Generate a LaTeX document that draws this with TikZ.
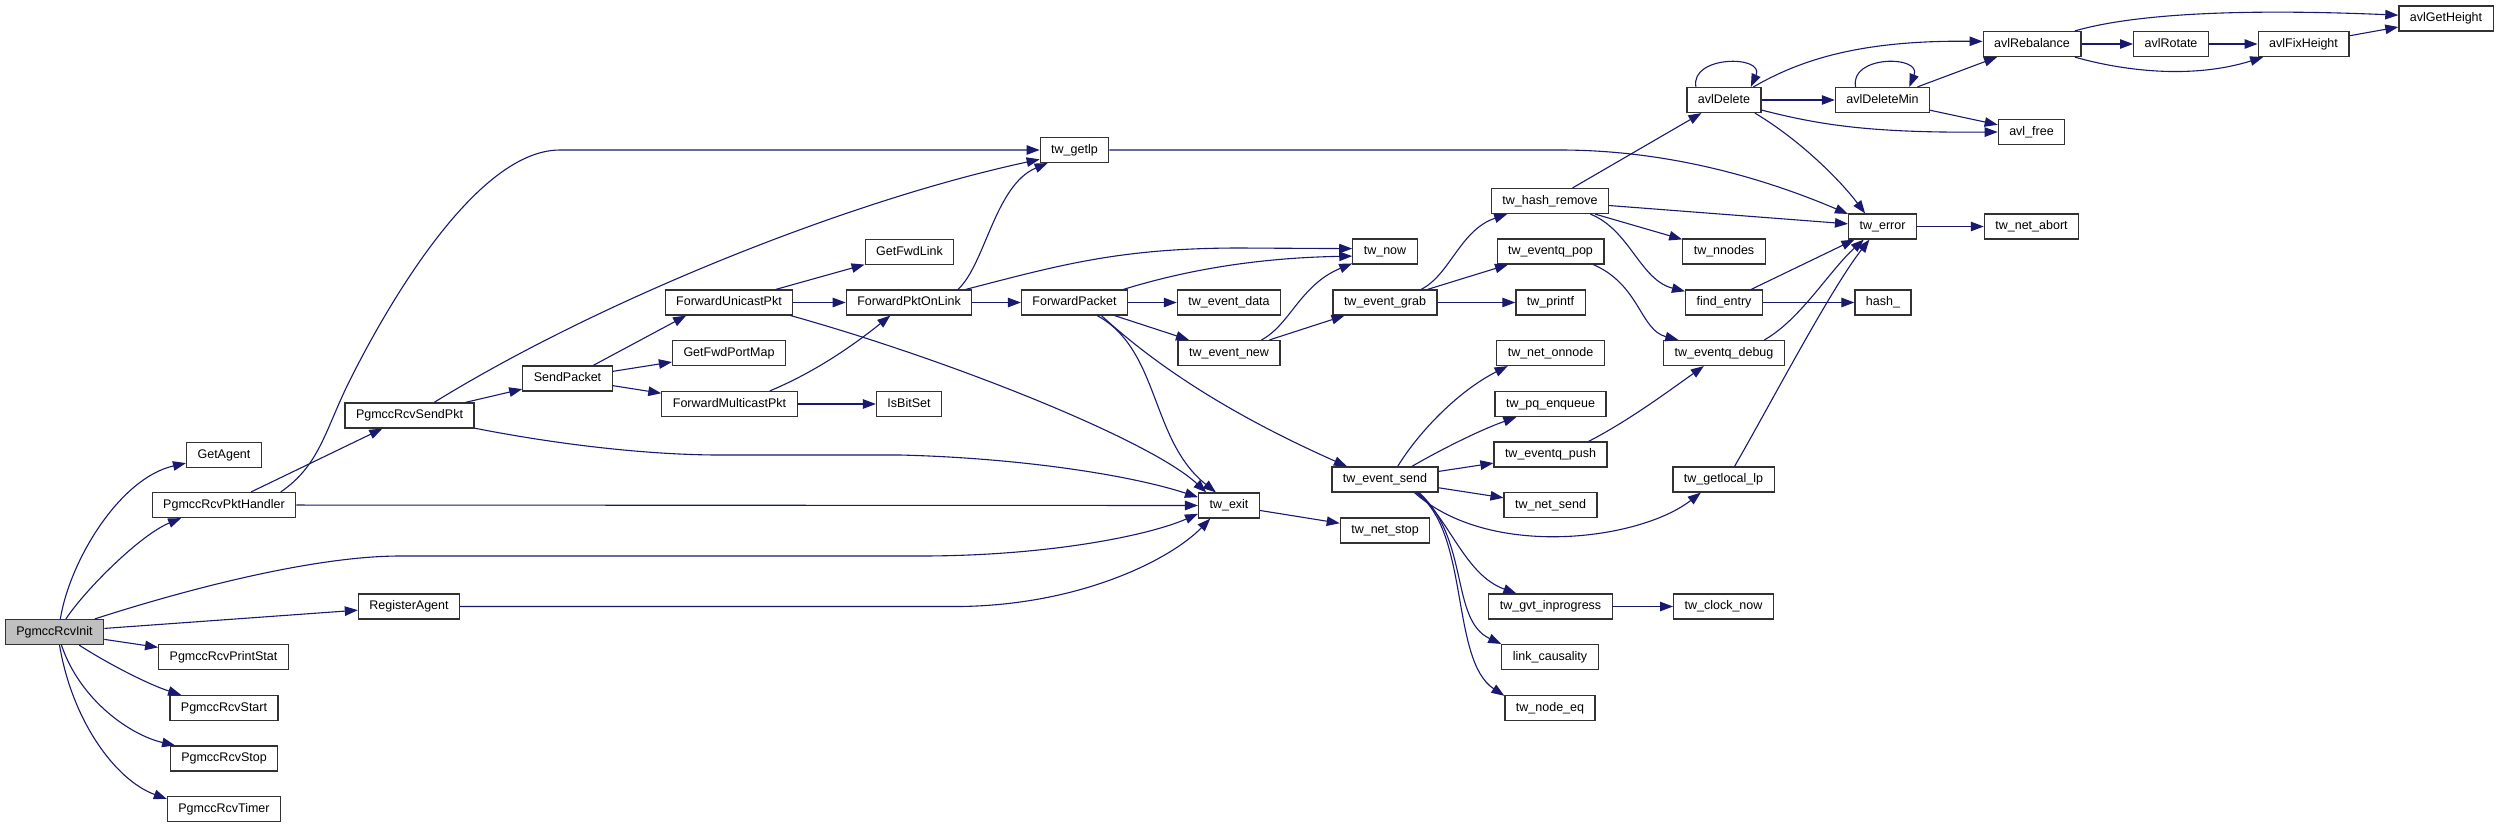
\documentclass[tikz,border=0pt]{standalone}
\usepackage{fontspec}
\setmainfont{Liberation Sans}
\usepackage{xcolor}
\usepackage{tikz}
\usetikzlibrary{arrows.meta}
\definecolor{edgeblue}{RGB}{25, 25, 112}
\definecolor{boxborder}{RGB}{50, 50, 50}
\definecolor{rootgray}{RGB}{191, 191, 191}

\begin{document}
\begin{tikzpicture}[
    x=1pt, y=-1pt,
    box/.style={rectangle, draw=boxborder, fill=white, line width=1.2pt,
                inner xsep=11pt, inner ysep=0pt, minimum height=25pt,
                text height=9pt, text depth=2.7pt, font=\fontsize{12.5}{15}\selectfont},
    rootbox/.style={box, fill=rootgray},
    arrow/.style={-{Triangle[length=13pt, width=9.5pt]}, line width=1.1pt, color=edgeblue}
]
    \useasboundingbox[fill=white] (0,0) rectangle (2496,828);

    % Root and its direct callees
    \node[rootbox] (init)     at (54.5,632)   {PgmccRcvInit};
    \node[box] (getagent)     at (224,455)    {GetAgent};
    \node[box] (pkthandler)   at (224,505)    {PgmccRcvPktHandler};
    \node[box] (printstat)    at (223.5,657)  {PgmccRcvPrintStat};
    \node[box] (rcvstart)     at (224,708)    {PgmccRcvStart};
    \node[box] (rcvstop)      at (224,758.5)  {PgmccRcvStop};
    \node[box] (rcvtimer)     at (224,809)    {PgmccRcvTimer};
    \node[box] (sendpkt)      at (409.5,415.5) {PgmccRcvSendPkt};
    \node[box] (regagent)     at (409,606.5)  {RegisterAgent};

    % Forwarding path
    \node[box] (sendpacket)   at (567.5,378.5) {SendPacket};
    \node[box] (fwdunicast)   at (729,302.5)  {ForwardUnicastPkt};
    \node[box] (fwdportmap)   at (729,353)    {GetFwdPortMap};
    \node[box] (fwdmulticast) at (729.5,404)  {ForwardMulticastPkt};
    \node[box] (fwdlink)      at (909.5,252)  {GetFwdLink};
    \node[box] (pktonlink)    at (909,302.5)  {ForwardPktOnLink};
    \node[box] (isbitset)     at (909,404)    {IsBitSet};
    \node[box] (getlp)        at (1074.5,150) {tw\_getlp};
    \node[box] (fwdpacket)    at (1074.5,302.5) {ForwardPacket};
    \node[box] (twexit)       at (1229,505.5) {tw\_exit};

    % Event layer
    \node[box] (evdata)       at (1229,302.5) {tw\_event\_data};
    \node[box] (evnew)        at (1229,353)   {tw\_event\_new};
    \node[box] (twnow)        at (1385,251.5) {tw\_now};
    \node[box] (evgrab)       at (1385,302.5) {tw\_event\_grab};
    \node[box] (evsend)       at (1385,479.5) {tw\_event\_send};
    \node[box] (netstop)      at (1385,530.5) {tw\_net\_stop};
    \node[box] (hashremove)   at (1550,201)   {tw\_hash\_remove};
    \node[box] (qpop)         at (1550.5,251.5) {tw\_eventq\_pop};
    \node[box] (twprintf)     at (1550.5,302.5) {tw\_printf};
    \node[box] (netonnode)    at (1550.5,353) {tw\_net\_onnode};
    \node[box] (pqenqueue)    at (1550.5,404) {tw\_pq\_enqueue};
    \node[box] (qpush)        at (1550.5,454.5) {tw\_eventq\_push};
    \node[box] (netsend)      at (1550.5,505) {tw\_net\_send};
    \node[box] (gvtprog)      at (1550.5,606.5) {tw\_gvt\_inprogress};
    \node[box] (causality)    at (1550,657)   {link\_causality};
    \node[box] (nodeeq)       at (1550,708)   {tw\_node\_eq};
    \node[box] (avldelete)    at (1724,100)   {avlDelete};
    \node[box] (nnodes)       at (1724,251.5) {tw\_nnodes};
    \node[box] (findentry)    at (1724,302.5) {find\_entry};
    \node[box] (qdebug)       at (1724,353)   {tw\_eventq\_debug};
    \node[box] (getlocallp)   at (1723.5,479.5) {tw\_getlocal\_lp};
    \node[box] (clocknow)     at (1723.5,606.5) {tw\_clock\_now};

    % AVL tree and error handling
    \node[box] (deletemin)    at (1882.5,100) {avlDeleteMin};
    \node[box] (twerror)      at (1882.5,226.5) {tw\_error};
    \node[box] (hashfn)       at (1883,302.5) {hash\_};
    \node[box] (rebalance)    at (2032,44)    {avlRebalance};
    \node[box] (avlfree)      at (2031.5,132) {avl\_free};
    \node[box] (netabort)     at (2031.5,226.5) {tw\_net\_abort};
    \node[box] (rotate)       at (2171,44)    {avlRotate};
    \node[box] (fixheight)    at (2303.5,44)  {avlFixHeight};
    \node[box] (getheight)    at (2446,18.5)  {avlGetHeight};

    % Calls from PgmccRcvInit
    \draw[arrow] (init.66) .. controls (70,560) and (120,478) .. (getagent.192);
    \draw[arrow] (init.49) .. controls (85,590) and (140,535) .. (pkthandler.197);
    \draw[arrow] (init.18) .. controls (200,585) and (320,556) .. (400,556) -- (920,556)
        .. controls (1050,556) and (1150,535) .. (twexit.195);
    \draw[arrow] (init) -- (regagent);
    \draw[arrow] (init) -- (printstat);
    \draw[arrow] (init.-28) .. controls (110,665) and (150,685) .. (rcvstart.163);
    \draw[arrow] (init.-62) .. controls (80,700) and (130,735) .. (rcvstop.165);
    \draw[arrow] (init.-69) .. controls (72,720) and (115,780) .. (rcvtimer.170);

    % Packet handling
    \draw[arrow] (pkthandler) -- (sendpkt);
    \draw[arrow] (pkthandler.13) .. controls (320,465) and (325,430) .. (350,380)
        .. controls (375,330) and (470,150) .. (560,150) -- (getlp.west);
    \draw[arrow] (pkthandler) -- (twexit);
    \draw[arrow] (sendpkt) -- (sendpacket);
    \draw[arrow] (sendpkt.28) .. controls (600,300) and (850,200) .. (getlp.195);
    \draw[arrow] (sendpkt.-11) .. controls (560,445) and (650,455) .. (720,455) -- (900,455)
        .. controls (1020,458) and (1130,475) .. (twexit.165);
    \draw[arrow] (regagent) -- (960,606.5) .. controls (1080,605) and (1170,560) .. (twexit.215);

    % Forwarding
    \draw[arrow] (sendpacket.27) -- (fwdunicast.197);
    \draw[arrow] (sendpacket) -- (fwdportmap);
    \draw[arrow] (sendpacket) -- (fwdmulticast);
    \draw[arrow] (fwdunicast) -- (fwdlink);
    \draw[arrow] (fwdunicast) -- (pktonlink);
    \draw[arrow] (fwdunicast.-12) .. controls (950,360) and (1150,440) .. (twexit.150);
    \draw[arrow] (fwdmulticast.18) .. controls (820,370) and (860,340) .. (pktonlink.215);
    \draw[arrow] (fwdmulticast) -- (isbitset);
    \draw[arrow] (pktonlink.15) .. controls (985,265) and (995,185) .. (getlp.206);
    \draw[arrow] (pktonlink) -- (fwdpacket);
    \draw[arrow] (pktonlink.13) .. controls (1060,265) and (1120,248) .. (1240,248) -- (twnow.175);
    \draw[arrow] (fwdpacket.15) .. controls (1180,272) and (1250,258) .. (twnow.188);
    \draw[arrow] (fwdpacket) -- (evdata);
    \draw[arrow] (fwdpacket) -- (evnew);
    \draw[arrow] (fwdpacket.-30) .. controls (1160,350) and (1150,440) .. (twexit.135);
    \draw[arrow] (fwdpacket.-26) .. controls (1150,360) and (1220,410) .. (evsend.161);
    \draw[arrow] (getlp) -- (1560,150) .. controls (1680,150) and (1780,185) .. (twerror.160);

    % Events
    \draw[arrow] (evnew.22) .. controls (1290,325) and (1300,285) .. (twnow.200);
    \draw[arrow] (evnew) -- (evgrab);
    \draw[arrow] (evgrab.20) .. controls (1450,275) and (1460,230) .. (hashremove.197);
    \draw[arrow] (evgrab) -- (qpop);
    \draw[arrow] (evgrab) -- (twprintf);
    \draw[arrow] (evsend.46) .. controls (1420,430) and (1460,390) .. (netonnode.197);
    \draw[arrow] (evsend.26) .. controls (1440,450) and (1480,430) .. (pqenqueue.201);
    \draw[arrow] (evsend) -- (qpush);
    \draw[arrow] (evsend) -- (netsend);
    \draw[arrow] (evsend.-24) .. controls (1490,560) and (1640,540) .. (getlocallp.210);
    \draw[arrow] (evsend.-22) .. controls (1450,520) and (1465,575) .. (gvtprog.159);
    \draw[arrow] (evsend.-21) .. controls (1470,540) and (1450,620) .. (causality.165);
    \draw[arrow] (evsend.-23) .. controls (1470,530) and (1450,660) .. (nodeeq.165);
    \draw[arrow] (twexit) -- (netstop);
    \draw[arrow] (gvtprog) -- (clocknow);

    % Hash and queue
    \draw[arrow] (hashremove) -- (avldelete);
    \draw[arrow] (hashremove) -- (twerror);
    \draw[arrow] (hashremove) -- (nnodes);
    \draw[arrow] (hashremove.-18) .. controls (1630,230) and (1640,280) .. (findentry.164);
    \draw[arrow] (qpop.-17) .. controls (1640,285) and (1640,330) .. (qdebug.164);
    \draw[arrow] (qpush.19) .. controls (1630,420) and (1670,390) .. (qdebug.213);
    \draw[arrow] (qdebug.18) .. controls (1800,320) and (1830,270) .. (twerror.215);
    \draw[arrow] (findentry) -- (twerror.205);
    \draw[arrow] (findentry) -- (hashfn);
    \draw[arrow] (getlocallp.50) .. controls (1770,405) and (1830,290) .. (twerror.225);
    \draw[arrow] (twerror) -- (netabort);

    % AVL tree
    \draw[arrow] (avldelete.155) .. controls (1690,55) and (1765,55) .. (avldelete.26);
    \draw[arrow] (avldelete) -- (deletemin);
    \draw[arrow] (avldelete.24) .. controls (1800,60) and (1860,40) .. (rebalance.177);
    \draw[arrow] (avldelete.-15) .. controls (1820,125) and (1870,133) .. (avlfree.west);
    \draw[arrow] (avldelete.-23) .. controls (1800,140) and (1840,180) .. (twerror.143);
    \draw[arrow] (deletemin.154) .. controls (1849,55) and (1922,55) .. (deletemin.26);
    \draw[arrow] (deletemin) -- (rebalance);
    \draw[arrow] (deletemin) -- (avlfree);
    \draw[arrow] (rebalance.17) .. controls (2130,15) and (2230,8) .. (getheight.176);
    \draw[arrow] (rebalance) -- (rotate);
    \draw[arrow] (rebalance.-17) .. controls (2120,70) and (2190,80) .. (fixheight.198);
    \draw[arrow] (rotate) -- (fixheight);
    \draw[arrow] (fixheight) -- (getheight);
\end{tikzpicture}
\end{document}
